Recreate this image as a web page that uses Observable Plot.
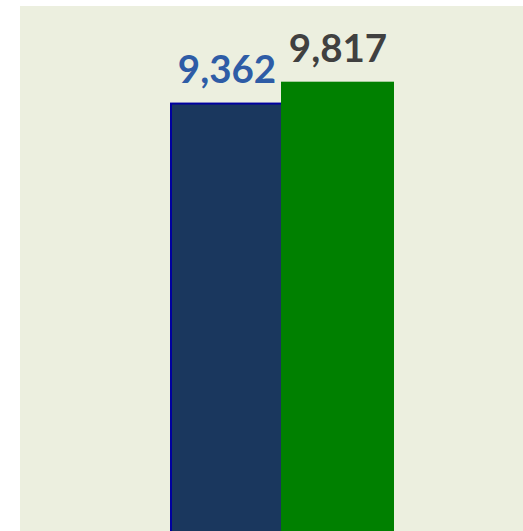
<!DOCTYPE html>
<html><head><meta charset="utf-8">
<script src="https://cdn.jsdelivr.net/npm/d3@7"></script>
<script src="https://cdn.jsdelivr.net/npm/@observablehq/plot@0.6"></script>
<style>
html,body{margin:0;padding:0;background:#fff;}
#wrap{padding-left:20px;padding-top:6px;width:503px;height:525px;overflow:hidden;}
</style>
</head><body><div id="wrap"></div>
<script>
const series = ["A", "B"];
const values = [9362, 9817];
const labels = ["9,362", "9,817"];
const fills = ["#1A375E", "#008000"];
const strokes = ["#0000A0", "#008000"];
const labelColors = ["#2E5CA6", "#404040"];

const data = series.map((s, i) => ({s, v: values[i], label: labels[i], fill: fills[i], stroke: strokes[i], lc: labelColors[i]}));

const chart = Plot.plot({
  width: 503,
  height: 527,
  marginLeft: 150,
  marginRight: 130,
  marginTop: 0,
  marginBottom: 0,
  style: {background: "#ECEFDF", overflow: "visible"},
  x: {domain: series, padding: 0, axis: null},
  y: {domain: [0, 11489], axis: null},
  marks: [
    Plot.barY(data, {x: "s", y: "v", fill: "fill", stroke: "stroke", strokeWidth: 2, inset: 0}),
    Plot.text(data, {x: "s", y: "v", text: "label", fill: "lc", dy: -21, lineAnchor: "bottom",
      fontFamily: "Lato", fontWeight: "bold", fontSize: 38.5})
  ]
});
document.getElementById("wrap").appendChild(chart);
</script></body></html>
